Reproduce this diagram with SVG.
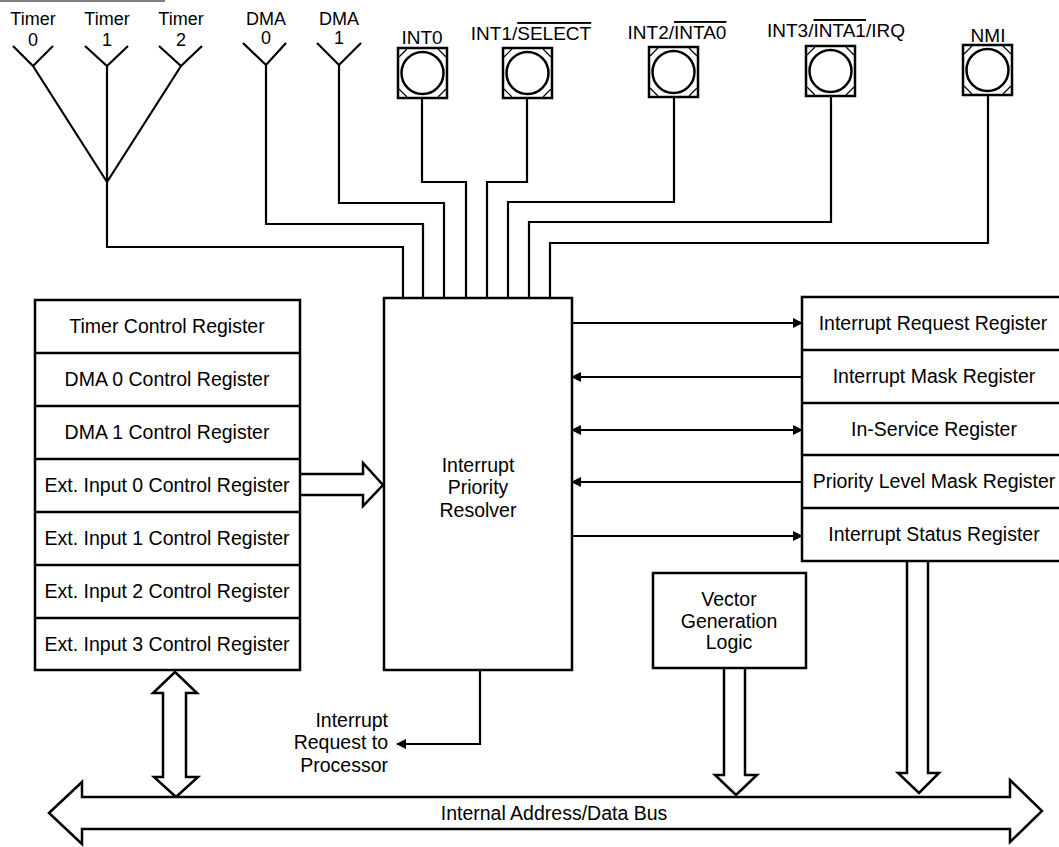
<svg xmlns="http://www.w3.org/2000/svg" width="1059" height="847" viewBox="0 0 1059 847">
<style>
text{font-family:"Liberation Sans",Arial,Helvetica,sans-serif;fill:#000}
.lbl{font-size:18px;text-anchor:middle}
.pin{font-size:19px;text-anchor:middle}
.reg{font-size:19.5px;text-anchor:middle}
.box{fill:#fff;stroke:#000;stroke-width:2.5}
.ln{fill:none;stroke:#000;stroke-width:2.2;stroke-linejoin:miter}
.hol{fill:#fff;stroke:#000;stroke-width:2.5;stroke-linejoin:miter}
.ol{text-decoration:overline}
</style>
<defs>
<marker id="ah" viewBox="0 0 10 10" refX="9" refY="5" markerWidth="10" markerHeight="10" markerUnits="userSpaceOnUse" orient="auto-start-reverse">
<path d="M0,0 L10,5 L0,10 z" fill="#000"/>
</marker>
<g id="pinsym">
<rect x="0" y="0" width="49" height="50" fill="#fff" stroke="#000" stroke-width="2.5"/>
<circle cx="24.5" cy="25" r="21" fill="#fff" stroke="#000" stroke-width="2.5"/>
<path d="M1,9 L9,1 M40,1 L48,9 M1,41 L9,49 M40,49 L48,41" stroke="#000" stroke-width="1.2" fill="none"/>
</g>
</defs>
<rect width="1059" height="847" fill="#fff"/>
<line x1="0" y1="1" x2="165" y2="1" stroke="#555" stroke-width="1.5"/>

<g id="connectors">
<!-- timer fan-in -->
<path class="ln" d="M13,46 L33,66 L53,46 M33,66 L107,182 M85,46 L107,66 L128,46 M107,66 V182 M159,46 L181,66 L202,46 M181,66 L107,182"/>
<path class="ln" d="M107,182 V247 H403 V298"/>
<!-- DMA -->
<path class="ln" d="M243,43 L266,65 L286,43 M266,65 V224 H423 V298"/>
<path class="ln" d="M317,43 L339,65 L361,43 M339,65 V203 H444 V298"/>
<!-- INT pins -->
<path class="ln" d="M422,98 V182 H466 V298"/>
<path class="ln" d="M527,98 V182 H487 V298"/>
<path class="ln" d="M674,97 V202 H508 V298"/>
<path class="ln" d="M831,96 V222 H529 V298"/>
<path class="ln" d="M988,95 V243 H550 V298"/>
<!-- resolver to right registers -->
<line class="ln" x1="572" y1="323" x2="802" y2="323" marker-end="url(#ah)"/>
<line class="ln" x1="802" y1="377" x2="572" y2="377" marker-end="url(#ah)"/>
<line class="ln" x1="572" y1="430" x2="802" y2="430" marker-start="url(#ah)" marker-end="url(#ah)"/>
<line class="ln" x1="802" y1="482" x2="572" y2="482" marker-end="url(#ah)"/>
<line class="ln" x1="572" y1="536" x2="802" y2="536" marker-end="url(#ah)"/>
<!-- interrupt request to processor -->
<path class="ln" d="M480,670 V744 H397" marker-end="url(#ah)"/>
<!-- hollow arrows -->
<path class="hol" d="M300,474 H363 V463 L383,485 L363,506 V495 H300"/>
<path class="hol" d="M175,672 L197,693 H186 V777 H198 L176,797 L154,777 H163 V693 H153 Z"/>
<path class="hol" d="M724,668 V775 H715 L736,795 L757,775 H745 V668"/>
<path class="hol" d="M907,561 V773 H898 L919,793 L939,773 H928 V561"/>
</g>

<g id="bus">
<path class="hol" d="M49,813 L82,782 V797 H1010 V780 L1042,811 L1010,842 V829 H82 V844 Z"/>
<text class="reg" x="554" y="820">Internal Address/Data Bus</text>
</g>

<g id="timer-labels">
<text class="lbl" x="33" y="25">Timer</text><text class="lbl" x="33" y="46">0</text>
<text class="lbl" x="107" y="25">Timer</text><text class="lbl" x="107" y="46">1</text>
<text class="lbl" x="181" y="25">Timer</text><text class="lbl" x="181" y="46">2</text>
<text class="lbl" x="266" y="25">DMA</text><text class="lbl" x="266" y="44">0</text>
<text class="lbl" x="339" y="25">DMA</text><text class="lbl" x="339" y="44">1</text>
</g>

<g id="pin-int0"><use href="#pinsym" x="398" y="48"/><text class="pin" x="422" y="44">INT0</text></g>
<g id="pin-int1"><use href="#pinsym" x="503" y="48"/><text class="pin" x="531" y="40">INT1/<tspan class="ol">SELECT</tspan></text></g>
<g id="pin-int2"><use href="#pinsym" x="649" y="47"/><text class="pin" x="677" y="39">INT2/<tspan class="ol">INTA0</tspan></text></g>
<g id="pin-int3"><use href="#pinsym" x="806" y="46"/><text class="pin" x="836" y="37">INT3/<tspan class="ol">INTA1</tspan>/IRQ</text></g>
<g id="pin-nmi"><use href="#pinsym" x="963" y="45"/><text class="pin" x="988" y="42">NMI</text></g>

<g id="control-registers">
<rect class="box" x="35" y="300" width="265" height="370"/>
<path d="M35,353 H300 M35,406 H300 M35,459 H300 M35,512 H300 M35,565 H300 M35,618 H300" stroke="#000" stroke-width="2.5"/>
<text class="reg" x="167" y="333">Timer Control Register</text>
<text class="reg" x="167" y="386">DMA 0 Control Register</text>
<text class="reg" x="167" y="439">DMA 1 Control Register</text>
<text class="reg" x="167" y="492">Ext. Input 0 Control Register</text>
<text class="reg" x="167" y="545">Ext. Input 1 Control Register</text>
<text class="reg" x="167" y="598">Ext. Input 2 Control Register</text>
<text class="reg" x="167" y="651">Ext. Input 3 Control Register</text>
</g>

<g id="resolver">
<rect class="box" x="384" y="298" width="188" height="372"/>
<text class="reg" x="478" y="472">Interrupt</text>
<text class="reg" x="478" y="494">Priority</text>
<text class="reg" x="478" y="517">Resolver</text>
</g>

<g id="status-registers">
<rect class="box" x="802" y="297" width="270" height="264"/>
<path d="M802,350 H1059 M802,403 H1059 M802,455 H1059 M802,508 H1059" stroke="#000" stroke-width="2.5"/>
<text class="reg" x="933" y="330">Interrupt Request Register</text>
<text class="reg" x="934" y="383">Interrupt Mask Register</text>
<text class="reg" x="934" y="436">In-Service Register</text>
<text class="reg" x="934" y="488">Priority Level Mask Register</text>
<text class="reg" x="934" y="541">Interrupt Status Register</text>
</g>

<g id="vector-logic">
<rect class="box" x="653" y="573" width="153" height="95"/>
<text class="reg" x="729" y="606">Vector</text>
<text class="reg" x="729" y="628">Generation</text>
<text class="reg" x="729" y="649">Logic</text>
</g>

<g id="irq-label">
<text class="reg" x="388" y="727" text-anchor="end" style="text-anchor:end">Interrupt</text>
<text class="reg" x="388" y="749" style="text-anchor:end">Request to</text>
<text class="reg" x="388" y="772" style="text-anchor:end">Processor</text>
</g>
</svg>
